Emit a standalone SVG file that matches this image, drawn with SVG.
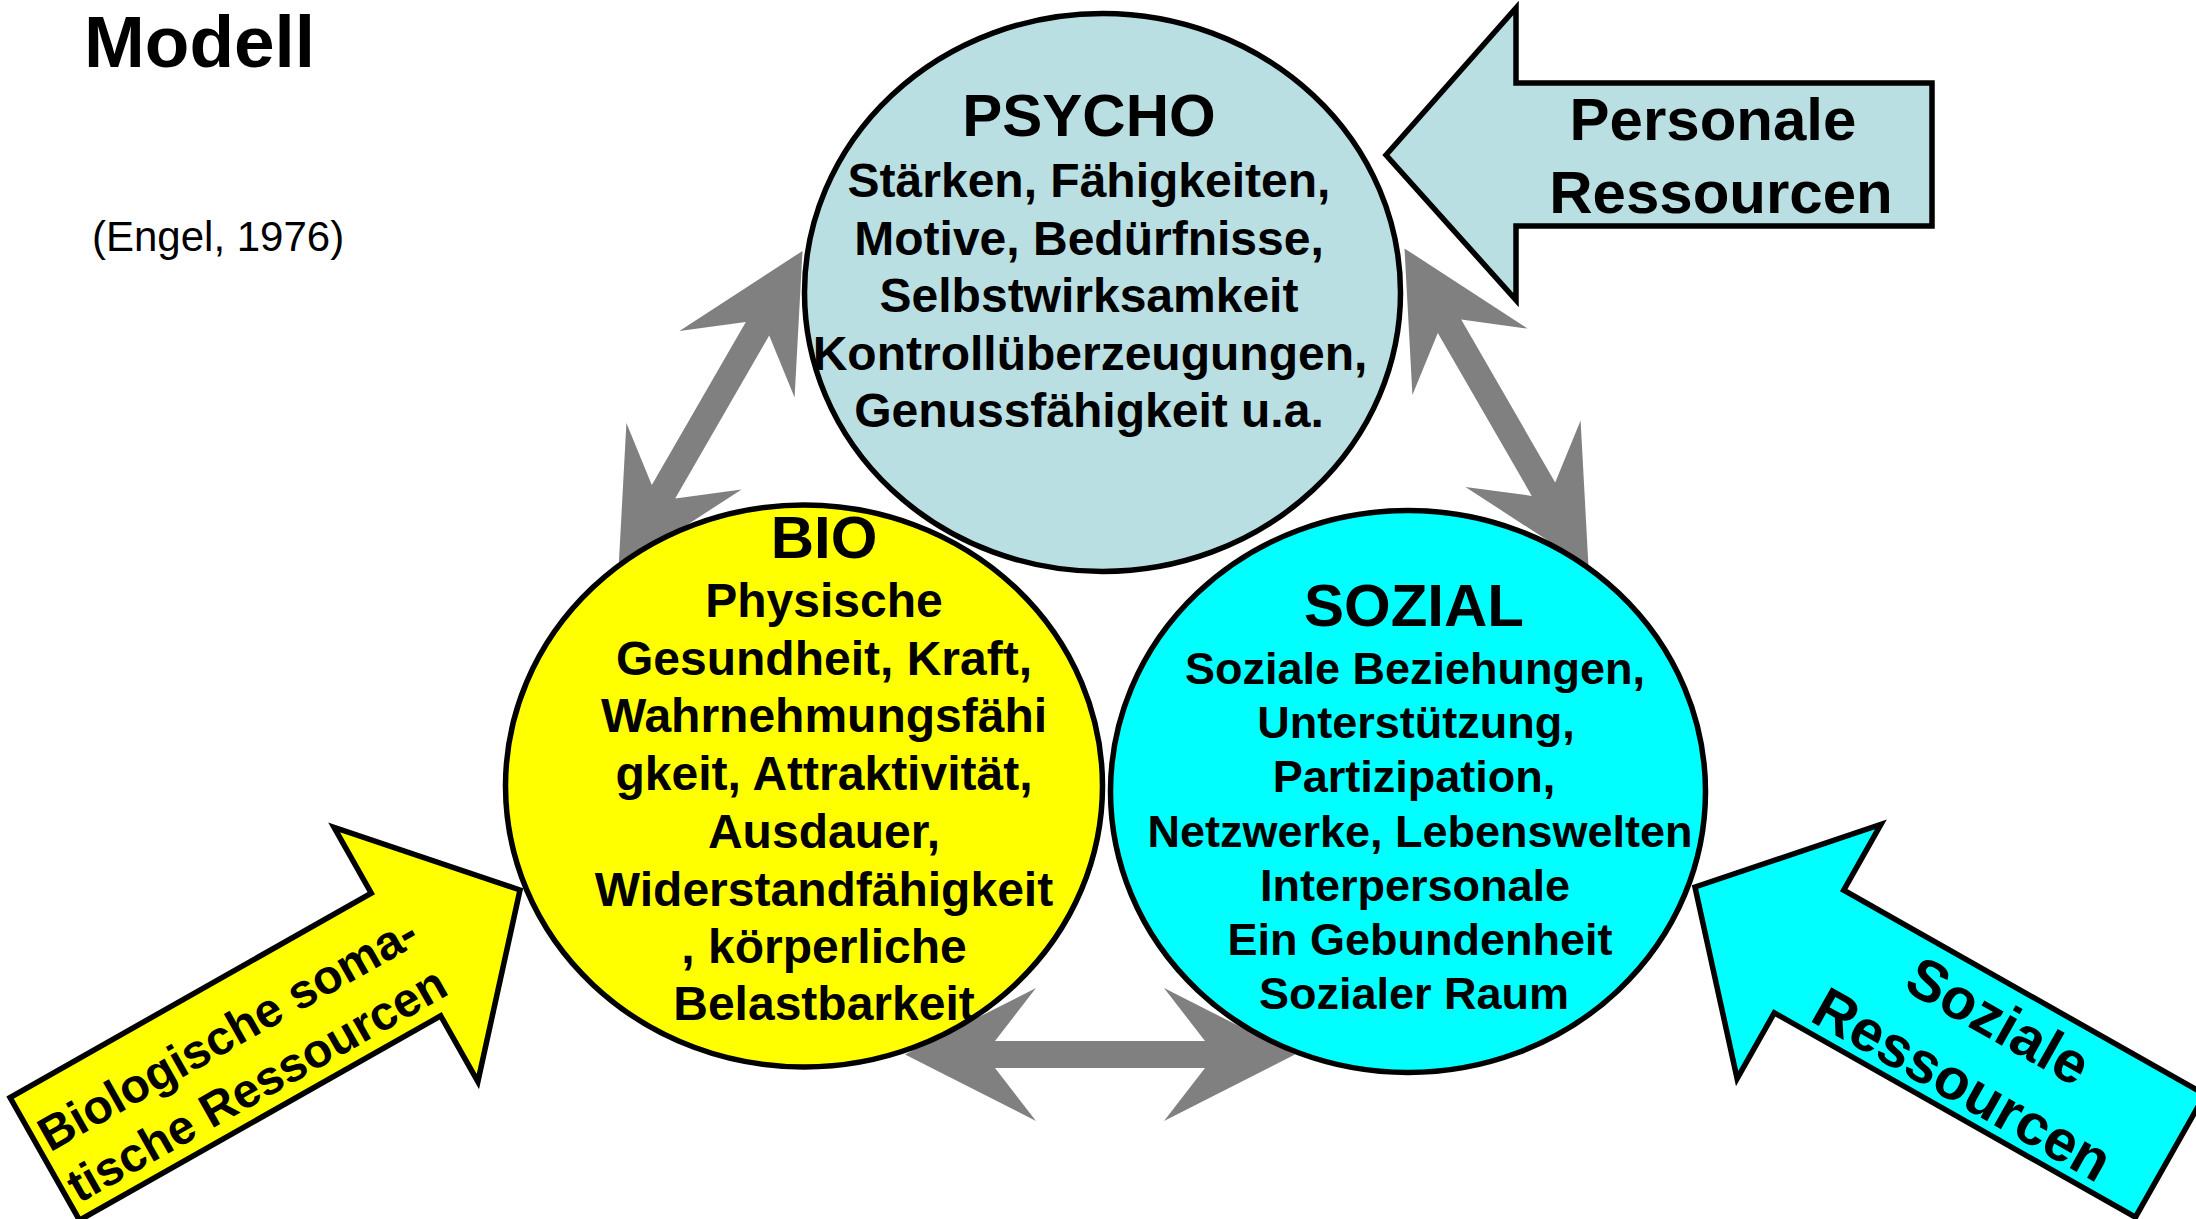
<svg xmlns="http://www.w3.org/2000/svg" width="2196" height="1219" viewBox="0 0 2196 1219">
<defs>
<style>
text { font-family: "Liberation Sans", Arial, sans-serif; font-weight: bold; fill: #000; }
text.reg { font-weight: normal; }
.c { text-anchor: middle; }
.shape { stroke: #000; stroke-width: 5.5; stroke-linejoin: miter; }
.conn { fill: #808080; stroke: none; }
.lb { fill: #BADFE2; }
.ye { fill: #FFFF00; }
.cy { fill: #00FFFF; }
.t60 { font-size: 60px; }
.b48 { font-size: 48px; }
.s45 { font-size: 45px; }
</style>
</defs>
<rect width="2196" height="1219" fill="#fff"/>

<g id="title">
<text x="84" y="67" font-size="73">Modell</text>
<text class="reg" x="92" y="251" font-size="42">(Engel, 1976)</text>
</g>

<g id="connectors" class="conn">
<polygon transform="translate(710.5,410.25) rotate(-60)" points="-184,0 -53,-66.5 -94,-13.5 94,-13.5 53,-66.5 184,0 53,66.5 94,13.5 -94,13.5 -53,66.5"/>
<polygon transform="translate(1496.5,407.75) rotate(60)" points="-184,0 -53,-66.5 -94,-13.5 94,-13.5 53,-66.5 184,0 53,66.5 94,13.5 -94,13.5 -53,66.5"/>
<polygon transform="translate(1100,1054.5)" points="-195,0 -64,-66.5 -105,-13.5 105,-13.5 64,-66.5 195,0 64,66.5 105,13.5 -105,13.5 -64,66.5"/>
</g>

<g id="psycho">
<ellipse class="shape lb" cx="1102.5" cy="292.5" rx="298" ry="279"/>
<text class="c t60" x="1089" y="136">PSYCHO</text>
<text class="c b48" x="1089" y="197">Stärken, Fähigkeiten,</text>
<text class="c b48" x="1089" y="255">Motive, Bedürfnisse,</text>
<text class="c b48" x="1089" y="312">Selbstwirksamkeit</text>
<text class="c b48" x="1090" y="370">Kontrollüberzeugungen,</text>
<text class="c b48" x="1089" y="427">Genussfähigkeit u.a.</text>
</g>

<g id="bio">
<ellipse class="shape ye" cx="804" cy="786" rx="298.5" ry="281"/>
<text class="c t60" x="824" y="558">BIO</text>
<text class="c b48" x="824" y="617">Physische</text>
<text class="c b48" x="824" y="675">Gesundheit, Kraft,</text>
<text class="c b48" x="824" y="732">Wahrnehmungsfähi</text>
<text class="c b48" x="824" y="790">gkeit, Attraktivität,</text>
<text class="c b48" x="824" y="848">Ausdauer,</text>
<text class="c b48" x="824" y="906">Widerstandfähigkeit</text>
<text class="c b48" x="824" y="963">, körperliche</text>
<text class="c b48" x="824" y="1020">Belastbarkeit</text>
</g>

<g id="sozial">
<ellipse class="shape cy" cx="1408" cy="791.5" rx="297.5" ry="281"/>
<text class="c t60" x="1414" y="626">SOZIAL</text>
<text class="c s45" x="1415" y="684">Soziale Beziehungen,</text>
<text class="c s45" x="1416" y="738">Unterstützung,</text>
<text class="c s45" x="1414" y="792">Partizipation,</text>
<text class="c s45" x="1420" y="847">Netzwerke, Lebenswelten</text>
<text class="c s45" x="1415" y="901">Interpersonale</text>
<text class="c s45" x="1420" y="955">Ein Gebundenheit</text>
<text class="c s45" x="1414" y="1009">Sozialer Raum</text>
</g>

<g id="personale-ressourcen">
<polygon class="shape lb" points="1386,155 1516,8 1516,83 1932,83 1932,226 1516,226 1516,300"/>
<text class="c t60" x="1713" y="140">Personale</text>
<text class="c t60" x="1721" y="213">Ressourcen</text>
</g>

<g id="biologische-ressourcen" transform="translate(520,890) rotate(-29.5)">
<polygon class="shape ye" points="0,0 -131,-146 -131,-70.5 -546,-70.5 -546,70.5 -131,70.5 -131,146"/>
<text class="c b48" x="-325" y="-3">Biologische soma-</text>
<text class="c b48" x="-325" y="56">tische Ressourcen</text>
</g>

<g id="soziale-ressourcen">
<polygon class="shape cy" transform="translate(1695,887) scale(-1,1) rotate(-29.5)" points="0,0 -131,-146 -131,-70.5 -546,-70.5 -546,70.5 -131,70.5 -131,146"/>
<g transform="translate(1695,887) rotate(29.5)">
<text class="c" font-size="58" x="330" y="-13">Soziale</text>
<text class="c" font-size="58" x="330" y="60">Ressourcen</text>
</g>
</g>
</svg>
